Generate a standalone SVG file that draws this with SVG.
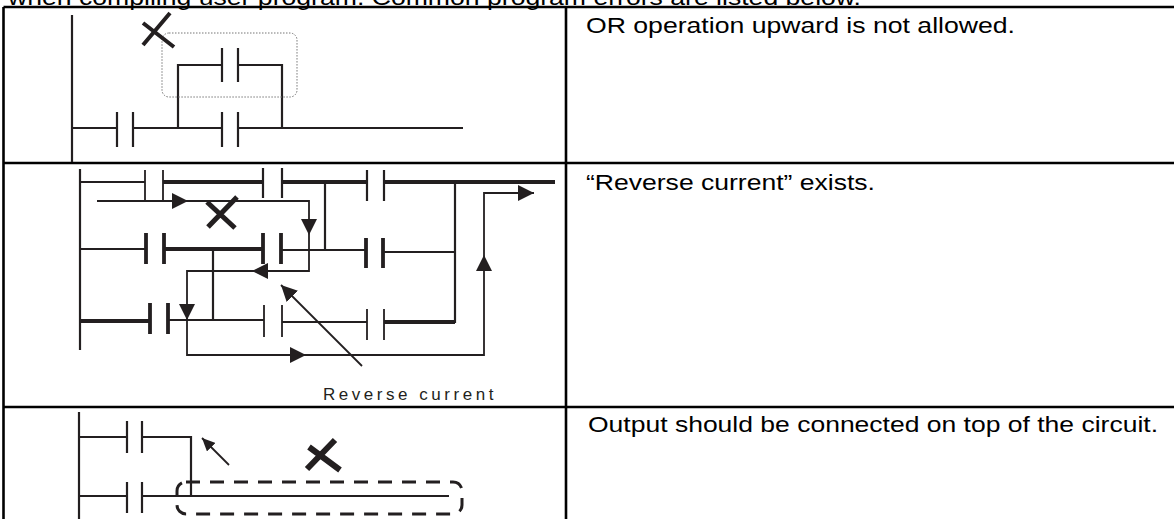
<svg xmlns="http://www.w3.org/2000/svg" width="1174" height="519" viewBox="0 0 1174 519">
<defs>
<style>
.ln{stroke:#231f20;fill:none;stroke-width:2.2;stroke-linecap:butt}
.th{stroke-width:3.8}
.tn{stroke-width:1.8}
.x{stroke:#231f20;fill:none;stroke-linecap:butt}
.tbl{stroke:#000;stroke-width:2.6;fill:none}
.t{font-family:"Liberation Sans",Arial,Helvetica,sans-serif;font-size:22px;fill:#000}
.flow{stroke:#231f20;stroke-width:1.8;fill:none}
.lbl{font-family:"Liberation Sans",Arial,sans-serif;font-size:17px;fill:#231f20;letter-spacing:1.5px}
</style>
<marker id="ah" markerUnits="userSpaceOnUse" markerWidth="16" markerHeight="16" refX="16" refY="8" orient="auto" viewBox="0 0 16 16"><path d="M0,0 L16,8 L0,16 z" fill="#231f20"/></marker>
<marker id="ahs" markerUnits="userSpaceOnUse" markerWidth="13" markerHeight="12" refX="13" refY="6" orient="auto" viewBox="0 0 13 12"><path d="M0,0 L13,6 L0,12 z" fill="#231f20"/></marker>
</defs>
<rect width="1174" height="519" fill="#fff"/>

<text class="t" x="8" y="5" textLength="853" lengthAdjust="spacingAndGlyphs">when compiling user program. Common program errors are listed below.</text>

<g id="table" class="tbl">
<line x1="3.5" y1="7" x2="1174" y2="7"/>
<line x1="3.5" y1="163" x2="1174" y2="163"/>
<line x1="3.5" y1="407" x2="1174" y2="407"/>
<line x1="3.5" y1="7" x2="3.5" y2="519"/>
<line x1="566" y1="7" x2="566" y2="519"/>
</g>

<g id="desc1"><text class="t" x="586" y="33" textLength="429" lengthAdjust="spacingAndGlyphs">OR operation upward is not allowed.</text></g>
<g id="desc2"><text class="t" x="586" y="190" textLength="289" lengthAdjust="spacingAndGlyphs">“Reverse current” exists.</text></g>
<g id="desc3"><text class="t" x="588" y="432" textLength="570" lengthAdjust="spacingAndGlyphs">Output should be connected on top of the circuit.</text></g>

<g id="ladder1" class="ln">
<path d="M72,15 V162"/>
<path d="M72,128 H117 M133,128 H222 M238,128 H463"/>
<path d="M117,112 V147 M133,112 V147 M222,112 V147 M238,112 V147"/>
<path d="M178,128 V65 H222 M238,65 H282 V128"/>
<path d="M222,48 V82 M238,48 V82"/>
<rect x="162" y="33" width="135" height="64" rx="7" stroke="#777" stroke-width="1" stroke-dasharray="1.5 1.5"/>
<path class="x" stroke-width="4" d="M143,45 L170,13 M143,23 L174,47"/>
</g>

<g id="ladder2" class="ln">
<path d="M80,169 V350"/>
<path class="tn" d="M80,182 H145"/>
<path class="tn" d="M145,170 V200 M163,170 V200"/>
<path class="th" d="M163,182 H263 M282,182 H367 M384,182 H555"/>
<path d="M263,168 V198 M282,168 V198 M367,170 V201 M384,170 V201"/>
<path class="tn" d="M80,249 H145"/>
<path class="th" d="M146,233 V264 M164,233 V264 M263,233 V264 M281,233 V264 M366,238 V268 M383,238 V268"/>
<path class="th" d="M164,249 H263"/>
<path class="tn" d="M281,250 H366 M383,252 H455"/>
<path class="th" d="M80,321 H150"/>
<path class="th" d="M150,303 V334 M168,303 V334"/>
<path d="M168,320 H264"/>
<path class="tn" d="M264,305 V337 M282,305 V337 M367,309 V340 M384,309 V340 M282,322 H367"/>
<path class="th" d="M384,322 H455"/>
<path d="M325,182 V250 M455,182 V323 M213,249 V320"/>
<path class="x" stroke-width="5" d="M208,227 L237,197 M207,202 L235,228"/>
</g>

<g id="connectors">
<polyline class="flow" points="97,201 188,201" marker-end="url(#ah)"/>
<polyline class="flow" points="188,201 309,201 309,235" marker-end="url(#ah)"/>
<polyline class="flow" points="309,235 309,271 252,271" marker-end="url(#ah)"/>
<polyline class="flow" points="252,271 187,271 187,320" marker-end="url(#ah)"/>
<polyline class="flow" points="187,320 187,355 306,355" marker-end="url(#ah)"/>
<polyline class="flow" points="306,355 484,355 484,255" marker-end="url(#ah)"/>
<polyline class="flow" points="484,255 484,193 534,193" marker-end="url(#ah)"/>
<line class="flow" stroke-width="2.6" x1="362" y1="366" x2="281" y2="285" marker-end="url(#ah)"/>
<line class="flow" stroke-width="2.6" x1="229" y1="465" x2="202" y2="438" marker-end="url(#ahs)"/>
</g>

<g id="label-reverse"><text class="lbl" x="323" y="400" textLength="172" lengthAdjust="spacing">Reverse current</text></g>

<g id="ladder3" class="ln" stroke-width="2.8">
<path d="M79,412 V519"/>
<path d="M79,437 H127 M142,437 H191 V496"/>
<path d="M127,421 V453 M142,421 V453"/>
<path d="M79,496 H127 M142,496 H449"/>
<path d="M127,482 V513 M142,482 V513"/>
<rect x="177" y="482" width="285" height="32" rx="9" stroke-width="3" stroke-dasharray="14 10"/>
<path class="x" stroke-width="6" d="M307,469 L335,440 M309,447 L340,470"/>
</g>
</svg>
